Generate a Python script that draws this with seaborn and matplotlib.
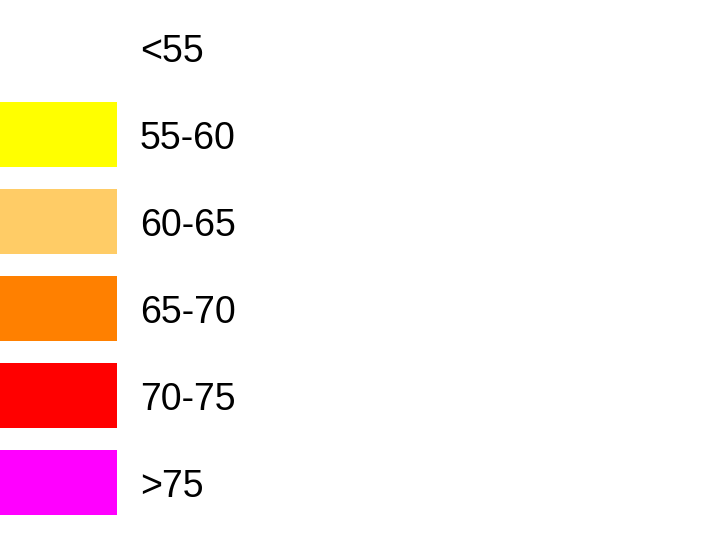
import seaborn as sns
import matplotlib.pyplot as plt

# 图例分级
labels = ['<55', '55-60', '60-65', '65-70', '70-75', '>75']
colors = ['#FFFFFF', '#FFFF00', '#FFCC66', '#FF8000', '#FF0000', '#FF00FF']
widths = [1, 1, 1, 1, 1, 1]

sns.set_style('white')
plt.rcParams['font.family'] = ['Liberation Sans', 'DejaVu Sans']

fig = plt.figure(figsize=(7.18, 5.43), dpi=100)
ax = fig.add_axes([0, 0.031, 1, 0.961])

sns.barplot(x=widths, y=labels, hue=labels, palette=colors, order=labels,
            width=0.75, saturation=1, linewidth=0, legend=False, ax=ax, orient='h')

ax.set_xlim(0, 718 / 117)
for i, lab in enumerate(labels):
    ax.text(140 / 117, i, lab, fontsize=27, va='center_baseline', ha='left', color='black')

ax.set_axis_off()
fig.savefig('out.png', dpi=100)
